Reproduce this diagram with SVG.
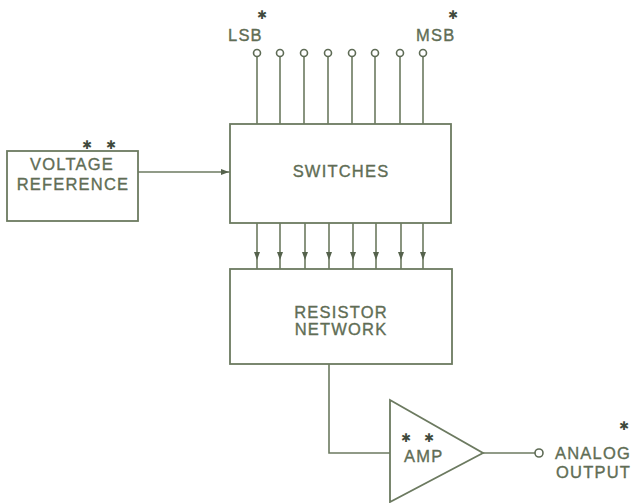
<svg xmlns="http://www.w3.org/2000/svg" width="631" height="503" viewBox="0 0 631 503">
<style>
.ln{fill:none;stroke:#6c7a60;stroke-width:1.6}
.bx{fill:#fff;stroke:#6c7a60;stroke-width:1.8}
.t{font-family:"Liberation Sans",Arial,sans-serif;font-size:16.5px;fill:#5f6d55;stroke:#5f6d55;stroke-width:0.35;letter-spacing:1.2px}
.c{text-anchor:middle}
.st{font-family:"DejaVu Sans",sans-serif;font-size:12px;fill:#3f4a3c;text-anchor:middle;dominant-baseline:central}
.pin{fill:#fff;stroke:#5e6b55;stroke-width:1.6}
</style>
<defs>
<marker id="ah" markerWidth="8" markerHeight="8" refX="4" refY="4" orient="auto" markerUnits="userSpaceOnUse">
<path d="M0,1 L8,4 L0,7 Z" fill="#55624c"/>
</marker>
</defs>
<rect width="631" height="503" fill="#fff"/>
<g id="connectors">
<path class="ln" d="M257,57 V124 M280,57 V124 M304,57 V124 M328,57 V124 M352,57 V124 M375,57 V124 M400,57 V124 M423,57 V124"/>
<path class="ln" marker-mid="url(#ah)" d="M138,172 L225,172 L230,172"/>
<path class="ln" marker-mid="url(#ah)" d="M257,223 L257,256 L257,269"/>
<path class="ln" marker-mid="url(#ah)" d="M280,223 L280,256 L280,269"/>
<path class="ln" marker-mid="url(#ah)" d="M305,223 L305,256 L305,269"/>
<path class="ln" marker-mid="url(#ah)" d="M329,223 L329,256 L329,269"/>
<path class="ln" marker-mid="url(#ah)" d="M353,223 L353,256 L353,269"/>
<path class="ln" marker-mid="url(#ah)" d="M376,223 L376,256 L376,269"/>
<path class="ln" marker-mid="url(#ah)" d="M401,223 L401,256 L401,269"/>
<path class="ln" marker-mid="url(#ah)" d="M423,223 L423,256 L423,269"/>
<path class="ln" d="M329,364 V453 H390"/>
<path class="ln" d="M483,453 H535"/>
</g>
<g id="inputs">
<circle class="pin" cx="257" cy="53" r="3.5"/>
<circle class="pin" cx="280" cy="53" r="3.5"/>
<circle class="pin" cx="304" cy="53" r="3.5"/>
<circle class="pin" cx="328" cy="53" r="3.5"/>
<circle class="pin" cx="352" cy="53" r="3.5"/>
<circle class="pin" cx="375" cy="53" r="3.5"/>
<circle class="pin" cx="400" cy="53" r="3.5"/>
<circle class="pin" cx="423" cy="53" r="3.5"/>
<text class="t" x="228" y="41">LSB</text>
<text class="st" x="262" y="15">✱</text>
<text class="t" x="416" y="41">MSB</text>
<text class="st" x="453" y="15">✱</text>
</g>
<g id="voltage-reference">
<rect class="bx" x="7" y="151" width="131" height="70"/>
<text class="st" x="87" y="145">✱</text>
<text class="st" x="111" y="145">✱</text>
<text class="t c" x="72" y="170">VOLTAGE</text>
<text class="t c" x="73" y="190">REFERENCE</text>
</g>
<g id="switches">
<rect class="bx" x="230" y="124" width="221" height="99"/>
<text class="t c" x="341" y="177">SWITCHES</text>
</g>
<g id="resistor-network">
<rect class="bx" x="230" y="269" width="222" height="95"/>
<text class="t c" x="341" y="318">RESISTOR</text>
<text class="t c" x="341" y="335">NETWORK</text>
</g>
<g id="amp">
<path class="bx" d="M390,400 L483,453 L390,502 Z"/>
<text class="st" x="406" y="438">✱</text>
<text class="st" x="429" y="438">✱</text>
<text class="t" x="404" y="462">AMP</text>
</g>
<g id="analog-output">
<circle class="pin" cx="539" cy="453" r="4"/>
<text class="t" x="555" y="459">ANALOG</text>
<text class="t" x="556" y="478">OUTPUT</text>
<text class="st" x="624" y="426">✱</text>
</g>
</svg>
